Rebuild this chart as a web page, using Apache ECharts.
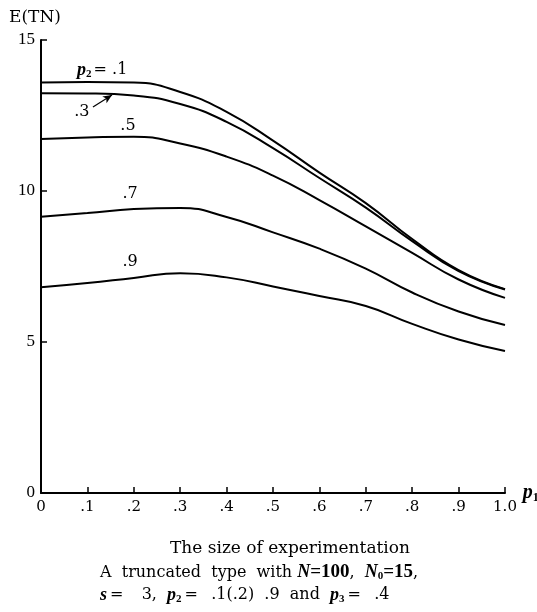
<!DOCTYPE html>
<html>
<head>
<meta charset="utf-8">
<script src="https://cdn.jsdelivr.net/npm/echarts@6/dist/echarts.min.js"></script>
<style>
  html, body { margin: 0; padding: 0; background: #fff; }
  #chart { width: 537px; height: 612px; }
</style>
</head>
<body>
<div id="chart"></div>
<script>
// p1 values (x axis)
const p1 = [0, 0.1, 0.2, 0.3, 0.4, 0.5, 0.6, 0.7, 0.8, 0.9, 1.0];

// E(TN), one array per p2
const p2_01 = [13.59, 13.61, 13.59, 13.28, 12.62, 11.67, 10.61, 9.60, 8.41, 7.38, 6.75];
const p2_03 = [13.24, 13.23, 13.16, 12.88, 12.29, 11.42, 10.43, 9.45, 8.34, 7.35, 6.74];
const p2_05 = [11.72, 11.77, 11.80, 11.57, 11.14, 10.51, 9.70, 8.83, 7.95, 7.07, 6.46];
const p2_07 = [9.15, 9.27, 9.40, 9.44, 9.14, 8.63, 8.09, 7.43, 6.64, 6.01, 5.56];
const p2_09 = [6.81, 6.95, 7.12, 7.28, 7.14, 6.84, 6.52, 6.19, 5.60, 5.08, 4.70];

const yTicks = [0, 5, 10, 15];

// curve labels: [text key, p1, E(TN)]
const curveLabels = [
    ['p1', 0.132, 14.0],
    ['.3', 0.088, 12.62],
    ['.5', 0.1875, 12.15],
    ['.7', 0.192, 9.90],
    ['.9', 0.192, 7.65]
];

const serif = '"Liberation Serif", "DejaVu Serif", serif';
const wideSerif = '"DejaVu Serif", serif';

const chart = echarts.init(document.getElementById('chart'));

const pairs = ys => p1.map((x, i) => [x, ys[i]]);

const labelPoint = (lab) => ({
    coord: [lab[1], lab[2]],
    symbol: 'rect',
    symbolSize: 1,
    itemStyle: { color: 'rgba(0,0,0,0)' },
    label: {
        show: true,
        position: 'inside',
        color: '#000',
        fontFamily: wideSerif,
        fontSize: 16,
        formatter: lab[0] === 'p1' ? '{i|p}{s|2}{t|= .1}' : lab[0],
        rich: {
            i: { fontFamily: serif, fontStyle: 'italic', fontWeight: 'bold', fontSize: 18, color: '#000' },
            s: { fontFamily: serif, fontWeight: 'bold', fontSize: 11, color: '#000', padding: [8, 2, 0, 0] },
            t: { fontFamily: wideSerif, fontSize: 16, color: '#000' }
        }
    }
});

const mkSeries = (name, ys, idx) => {
    const s = {
        name: name,
        type: 'line',
        smooth: 0.5,
        symbol: 'none',
        lineStyle: { color: '#000', width: 2 },
        data: pairs(ys),
        markPoint: { silent: true, data: [labelPoint(curveLabels[idx])] }
    };
    if (idx === 1) {
        // arrow from ".3" to its curve
        s.markLine = {
            silent: true,
            symbol: ['none', 'arrow'],
            symbolSize: [6, 9],
            lineStyle: { color: '#000', width: 1.2, type: 'solid' },
            label: { show: false },
            data: [[{ coord: [0.112, 12.78] }, { coord: [0.153, 13.18] }]]
        };
    }
    return s;
};

const capRich = {
    i: { fontFamily: serif, fontStyle: 'italic', fontWeight: 'bold', fontSize: 18 },
    s: { fontFamily: serif, fontWeight: 'bold', fontSize: 11, padding: [8, 0, 0, 0] },
    n: { fontFamily: serif, fontWeight: 'bold', fontSize: 19 },
    e: { fontFamily: wideSerif, fontSize: 16, padding: [0, 3, 0, 3] }
};

const option = {
    animation: false,
    backgroundColor: '#fff',
    grid: { left: 41, right: 32, top: 40, bottom: 119, containLabel: false, outerBoundsMode: 'none' },
    xAxis: {
        type: 'value',
        min: 0, max: 1, interval: 0.1,
        name: '{i|p}{s|1}',
        nameLocation: 'end',
        nameGap: 4,
        nameTextStyle: {
            rich: {
                i: { fontFamily: serif, fontStyle: 'italic', fontWeight: 'bold', fontSize: 20, color: '#000' },
                s: { fontFamily: serif, fontWeight: 'bold', fontSize: 12, color: '#000', padding: [10, 0, 0, 0] }
            }
        },
        axisLine: { show: true, lineStyle: { color: '#000', width: 2 } },
        axisTick: { show: true, inside: true, length: 6, lineStyle: { color: '#000', width: 1.5 } },
        splitLine: { show: false },
        axisLabel: {
            color: '#000', fontFamily: wideSerif, fontSize: 15, margin: 7,
            formatter: v => v === 0 ? '0' : (v >= 1 ? '1.0' : '.' + Math.round(v * 10))
        }
    },
    yAxis: {
        type: 'value',
        min: 0, max: 15, interval: 5,
        name: 'E(TN)',
        nameLocation: 'end',
        nameGap: 14,
        nameTextStyle: { color: '#000', fontFamily: wideSerif, fontSize: 17, padding: [0, 12, 0, 0] },
        axisLine: { show: true, lineStyle: { color: '#000', width: 2 } },
        axisTick: { show: true, inside: true, length: 6, lineStyle: { color: '#000', width: 1.5 } },
        splitLine: { show: false },
        axisLabel: {
            color: '#000', fontFamily: serif, fontSize: 17, margin: 6,
            formatter: v => yTicks.indexOf(v) >= 0 ? String(v) : ''
        }
    },
    graphic: [
        {
            type: 'text', left: 170, top: 540,
            style: { text: 'The size of experimentation', fill: '#000', font: '17px ' + wideSerif }
        },
        {
            type: 'text', left: 100, top: 563,
            style: {
                text: 'A  truncated  type  with {i|N}{n|=100},  {i|N}{s|0}{n|=15},',
                fill: '#000', font: '16px ' + wideSerif,
                rich: capRich
            }
        },
        {
            type: 'text', left: 100, top: 586,
            style: {
                text: '{i|s}{e|=}   3,  {i|p}{s|2}{e|=}  .1(.2)  .9  and  {i|p}{s|3}{e|=}  .4',
                fill: '#000', font: '16px ' + wideSerif,
                rich: capRich
            }
        }
    ],
    series: [
        mkSeries('p2=.1', p2_01, 0),
        mkSeries('p2=.3', p2_03, 1),
        mkSeries('p2=.5', p2_05, 2),
        mkSeries('p2=.7', p2_07, 3),
        mkSeries('p2=.9', p2_09, 4)
    ]
};

chart.setOption(option);
</script>
</body>
</html>
